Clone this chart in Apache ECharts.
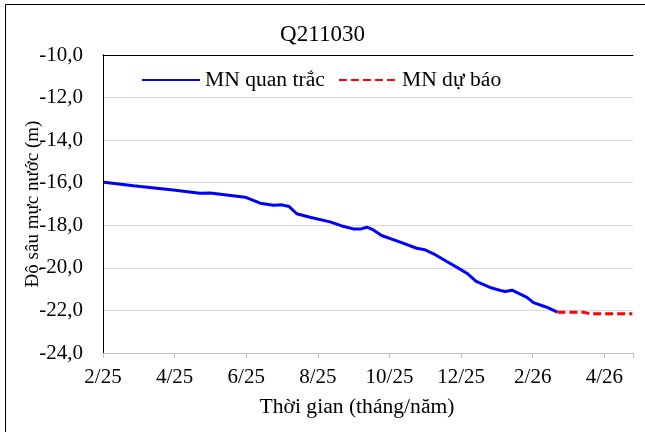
<!DOCTYPE html>
<html>
<head>
<meta charset="utf-8">
<script src="https://cdn.jsdelivr.net/npm/echarts@6/dist/echarts.min.js"></script>
<style>
  html, body { margin: 0; padding: 0; background: #fff; }
  #main { width: 645px; height: 432px; }
</style>
</head>
<body>
<div id="main"></div>
<script>
// thoi gian tinh bang thang, 0 = 1/2/2025
const monthObs = [0.03, 0.85, 1.96, 2.71, 2.99, 3.97, 4.39, 4.76, 4.99, 5.2, 5.41, 5.78, 6.34, 6.67, 6.99, 7.18, 7.37, 7.55, 7.78, 8.3, 8.76, 8.99, 9.23, 9.6, 9.97, 10.16, 10.42, 10.81, 11.14, 11.23, 11.42, 11.84, 12.02, 12.39, 12.69]
const levelObs = [-15.98, -16.14, -16.34, -16.49, -16.48, -16.68, -16.96, -17.06, -17.04, -17.12, -17.46, -17.62, -17.84, -18.03, -18.17, -18.18, -18.09, -18.22, -18.48, -18.79, -19.08, -19.15, -19.34, -19.7, -20.06, -20.25, -20.64, -20.92, -21.08, -21.11, -21.05, -21.39, -21.63, -21.85, -22.08]
const monthFc = [12.69, 13.42, 13.6, 14.78]
const levelFc = [-22.08, -22.08, -22.16, -22.16]
const xLabels = ['2/25', '4/25', '6/25', '8/25', '10/25', '12/25', '2/26', '4/26']

const font = 'Liberation Serif, Times New Roman, serif'
const pair = (xs, ys) => xs.map((x, i) => [x, ys[i]])

// truc phu chi de ve khung tren va phai
const frameAxis = {
  axisLine: { show: true, lineStyle: { color: '#000', width: 1 } },
  axisTick: { show: false },
  axisLabel: { show: false },
  splitLine: { show: false }
}

const chart = echarts.init(document.getElementById('main'))
chart.setOption({
  animation: false,
  textStyle: { fontFamily: font, color: '#000' },
  title: {
    text: 'Q211030',
    left: 'center',
    top: 18,
    textStyle: { fontFamily: font, fontSize: 23, fontWeight: 'normal', color: '#000' }
  },
  legend: {
    left: 136,
    top: 64,
    itemWidth: 58,
    itemHeight: 12,
    itemGap: 13,
    itemStyle: { opacity: 0 },
    textStyle: { fontFamily: font, fontSize: 21.6, color: '#000' },
    data: ['MN quan trắc', 'MN dự báo']
  },
  grid: {
    left: 103,
    right: 12,
    top: 55,
    bottom: 79
  },
  xAxis: [{
    type: 'value',
    min: 0,
    max: 14.8,
    interval: 2,
    name: 'Thời gian (tháng/năm)',
    nameLocation: 'middle',
    nameGap: 43,
    nameMoveOverlap: false,
    nameTextStyle: { fontFamily: font, fontSize: 21.6, color: '#000', padding: [0, 22, 0, 0] },
    axisLine: { lineStyle: { color: '#bfbfbf', width: 1 } },
    axisTick: { show: true, length: 5, lineStyle: { color: '#bfbfbf' } },
    axisLabel: {
      fontFamily: font,
      fontSize: 21,
      color: '#000',
      margin: 14,
      formatter: v => (v % 2 === 0 ? xLabels[v / 2] : '')
    },
    splitLine: { show: false }
  }, Object.assign({ type: 'value', position: 'top', min: 0, max: 14.8 }, frameAxis)],
  yAxis: [{
    type: 'value',
    min: -24,
    max: -10,
    interval: 2,
    name: 'Độ sâu mực nước (m)',
    nameLocation: 'middle',
    nameGap: 60,
    nameMoveOverlap: false,
    nameTextStyle: { fontFamily: font, fontSize: 19, color: '#000' },
    axisLine: { show: true, lineStyle: { color: '#000', width: 1 } },
    axisTick: { show: false },
    axisLabel: {
      fontFamily: font,
      fontSize: 21,
      color: '#000',
      margin: 20,
      formatter: v => v.toFixed(1).replace('.', ',')
    },
    splitLine: { lineStyle: { color: '#d9d9d9', width: 1 } }
  }, Object.assign({ type: 'value', position: 'right', min: -24, max: -10 }, frameAxis)],
  graphic: [{
    type: 'polyline',
    shape: { points: [[5.5, 432], [5.5, 4.5], [645, 4.5]] },
    style: { stroke: '#000', lineWidth: 1, fill: null }
  }],
  series: [
    {
      name: 'MN quan trắc',
      type: 'line',
      symbol: 'none',
      data: pair(monthObs, levelObs),
      lineStyle: { color: '#0000ff', width: 3 },
      itemStyle: { color: '#0000ff' }
    },
    {
      name: 'MN dự báo',
      type: 'line',
      symbol: 'none',
      data: pair(monthFc, levelFc),
      lineStyle: { color: '#ff0000', width: 3, type: [8, 4] },
      itemStyle: { color: '#ff0000' }
    }
  ]
})
</script>
</body>
</html>
